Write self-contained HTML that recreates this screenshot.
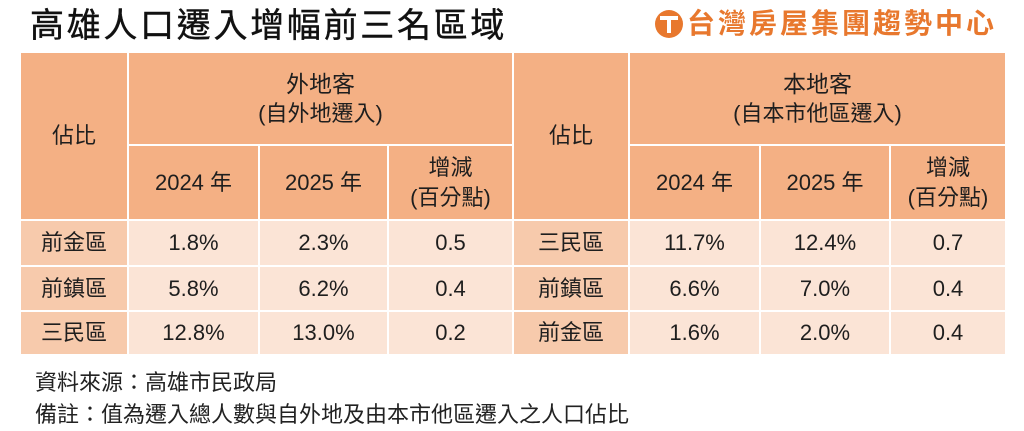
<!DOCTYPE html>
<html><head><meta charset="utf-8"><style>
body{margin:0;width:1024px;height:431px;background:#fff;position:relative;overflow:hidden;font-family:"Liberation Sans","Noto Sans CJK TC",sans-serif;color:#1e1e1e}
.title{position:absolute;left:30px;top:3px;font-size:34px;letter-spacing:2.7px;color:#111;line-height:46px;-webkit-text-stroke:0.4px #111}
.logo{position:absolute;left:655px;top:7px;font-size:28px;font-weight:bold;color:#e8782e;letter-spacing:3px;line-height:34px;display:flex;align-items:center}
.ic{width:28px;height:28px;border-radius:50%;background:#e8782e;margin-right:4px;position:relative}
.ic:before{content:"";position:absolute;left:5px;top:6px;width:18px;height:4px;background:#fff}
.ic:after{content:"";position:absolute;left:12px;top:10px;width:4px;height:13px;background:#fff}
.c{position:absolute;display:flex;align-items:center;justify-content:center;text-align:center;font-size:22px;line-height:30px;box-sizing:border-box;border-right:2px solid #fff;border-bottom:2px solid #fff}
.h{background:#f4b084}
.f{background:#f7caac}
.d{background:#fbe4d6}
.note{position:absolute;left:35px;font-size:22px;color:#222}
</style></head><body>
<div class="title">高雄人口遷入增幅前三名區域</div>
<div class="logo"><div class="ic"></div>台灣房屋集團趨勢中心</div>

<div class="c h" style="left:21px;top:53px;width:108px;height:168px">佔比</div>
<div class="c h" style="left:129px;top:53px;width:385px;height:93px;flex-direction:column"><span style="font-size:23px">外地客</span><span>(自外地遷入)</span></div>
<div class="c h" style="left:129px;top:146px;width:131px;height:75px">2024 年</div>
<div class="c h" style="left:260px;top:146px;width:129px;height:75px">2025 年</div>
<div class="c h" style="left:389px;top:146px;width:125px;height:75px;flex-direction:column"><span>增減</span><span>(百分點)</span></div>

<div class="c h" style="left:514px;top:53px;width:116px;height:168px">佔比</div>
<div class="c h" style="left:630px;top:53px;width:377px;height:93px;flex-direction:column"><span style="font-size:23px">本地客</span><span>(自本市他區遷入)</span></div>
<div class="c h" style="left:630px;top:146px;width:131px;height:75px">2024 年</div>
<div class="c h" style="left:761px;top:146px;width:130px;height:75px">2025 年</div>
<div class="c h" style="left:891px;top:146px;width:116px;height:75px;flex-direction:column"><span>增減</span><span>(百分點)</span></div>

<div class="c f" style="left:21px;top:221px;width:108px;height:46px">前金區</div>
<div class="c d" style="left:129px;top:221px;width:131px;height:46px">1.8%</div>
<div class="c d" style="left:260px;top:221px;width:129px;height:46px">2.3%</div>
<div class="c d" style="left:389px;top:221px;width:125px;height:46px">0.5</div>
<div class="c f" style="left:514px;top:221px;width:116px;height:46px">三民區</div>
<div class="c d" style="left:630px;top:221px;width:131px;height:46px">11.7%</div>
<div class="c d" style="left:761px;top:221px;width:130px;height:46px">12.4%</div>
<div class="c d" style="left:891px;top:221px;width:116px;height:46px">0.7</div>

<div class="c f" style="left:21px;top:267px;width:108px;height:45px">前鎮區</div>
<div class="c d" style="left:129px;top:267px;width:131px;height:45px">5.8%</div>
<div class="c d" style="left:260px;top:267px;width:129px;height:45px">6.2%</div>
<div class="c d" style="left:389px;top:267px;width:125px;height:45px">0.4</div>
<div class="c f" style="left:514px;top:267px;width:116px;height:45px">前鎮區</div>
<div class="c d" style="left:630px;top:267px;width:131px;height:45px">6.6%</div>
<div class="c d" style="left:761px;top:267px;width:130px;height:45px">7.0%</div>
<div class="c d" style="left:891px;top:267px;width:116px;height:45px">0.4</div>

<div class="c f" style="left:21px;top:312px;width:108px;height:44px">三民區</div>
<div class="c d" style="left:129px;top:312px;width:131px;height:44px">12.8%</div>
<div class="c d" style="left:260px;top:312px;width:129px;height:44px">13.0%</div>
<div class="c d" style="left:389px;top:312px;width:125px;height:44px">0.2</div>
<div class="c f" style="left:514px;top:312px;width:116px;height:44px">前金區</div>
<div class="c d" style="left:630px;top:312px;width:131px;height:44px">1.6%</div>
<div class="c d" style="left:761px;top:312px;width:130px;height:44px">2.0%</div>
<div class="c d" style="left:891px;top:312px;width:116px;height:44px">0.4</div>

<div class="note" style="top:365px">資料來源：高雄市民政局</div>
<div class="note" style="top:397px">備註：值為遷入總人數與自外地及由本市他區遷入之人口佔比</div>
</body></html>
